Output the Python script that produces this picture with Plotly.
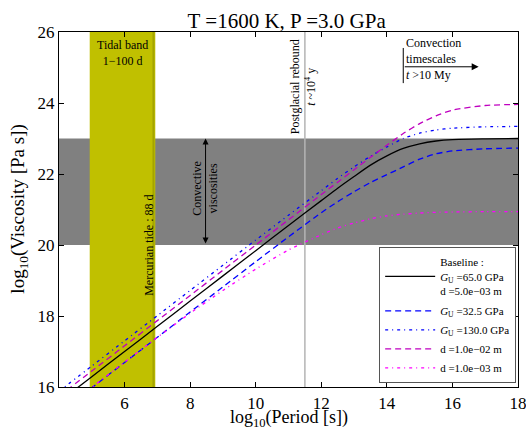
import plotly.graph_objects as go

# ---------------- data ----------------
period = [4.0, 5.0, 6.0, 7.0, 8.0, 9.0, 10.0, 11.0, 12.0, 12.5, 13.0, 13.5, 14.0, 14.5, 15.0, 15.5, 16.0, 17.0, 18.0]

visc_baseline = [15.58, 16.29, 17.00, 17.71, 18.42, 19.13, 19.84, 20.55, 21.25, 21.60, 21.93, 22.25, 22.51, 22.72, 22.85, 22.93, 22.97, 22.99, 23.00]
visc_gu_low   = [15.27, 15.98, 16.69, 17.40, 18.11, 18.82, 19.53, 20.23, 20.91, 21.22, 21.50, 21.76, 21.98, 22.20, 22.42, 22.57, 22.65, 22.71, 22.73]
visc_gu_high  = [15.88, 16.59, 17.30, 18.01, 18.72, 19.43, 20.14, 20.84, 21.53, 21.88, 22.20, 22.50, 22.76, 23.00, 23.15, 23.24, 23.29, 23.33, 23.34]
visc_d_large  = [15.74, 16.45, 17.16, 17.87, 18.58, 19.29, 20.00, 20.71, 21.42, 21.77, 22.12, 22.47, 22.81, 23.14, 23.42, 23.64, 23.80, 23.93, 23.96]
visc_d_small  = [15.28, 15.99, 16.70, 17.40, 18.08, 18.72, 19.32, 19.86, 20.29, 20.48, 20.62, 20.74, 20.82, 20.87, 20.90, 20.92, 20.93, 20.94, 20.94]

names = [
    "Baseline :<br><i>G</i><sub>U</sub> =65.0 GPa<br>d =5.0e\u221203 m",
    "<i>G</i><sub>U</sub> =32.5 GPa",
    "<i>G</i><sub>U</sub> =130.0 GPa",
    "d =1.0e\u221202 m",
    "d =1.0e\u221203 m",
]

convective_range = [20.0, 23.0]          # log10 viscosity
tidal_band = [4.937, 6.937]              # log10 period, 1-100 d
mercurian_tide = 6.881                    # 88 d
postglacial = 11.5                        # ~1e4 y
convection_start = 14.5                   # 10 My
convection_arrow_end = 16.8

x_ticks = [6, 8, 10, 12, 14, 16, 18]
y_ticks = [16, 18, 20, 22, 24, 26]

FONT = "Liberation Serif"

fig = go.Figure()

styles = [
    dict(color="black", width=1.3, dash="solid"),
    dict(color="#0000ff", width=1.3, dash="6px,4px"),
    dict(color="#0000ff", width=1.3, dash="3px,4px,1px,4px"),
    dict(color="#bf00bf", width=1.3, dash="6px,4px"),
    dict(color="#ff00ff", width=1.3, dash="3px,4px,1px,4px"),
]
series = [visc_baseline, visc_gu_low, visc_gu_high, visc_d_large, visc_d_small]
for i, (ys, nm, st) in enumerate(zip(series, names, styles)):
    fig.add_trace(go.Scatter(
        x=period, y=ys, mode="lines", name=nm,
        line=dict(shape="spline", smoothing=0.6, **st),
        legendgroup="base" if i == 0 else "other",
    ))

# bands and lines (all in data coordinates so they share one layer)
fig.add_shape(type="rect", xref="x", yref="y", x0=3.9, x1=18.1,
              y0=convective_range[0], y1=convective_range[1],
              fillcolor="#808080", line_width=0, layer="below")
fig.add_shape(type="line", xref="x", yref="y", x0=postglacial, x1=postglacial,
              y0=15.9, y1=26.1, line=dict(color="#b4b4b4", width=1.5), layer="below")
fig.add_shape(type="rect", xref="x", yref="y", x0=tidal_band[0], x1=tidal_band[1],
              y0=15.9, y1=26.1, fillcolor="#c0c000", line_width=0, layer="below")
fig.add_shape(type="line", xref="x", yref="y", x0=mercurian_tide, x1=mercurian_tide,
              y0=15.9, y1=26.1, line=dict(color="#a4a400", width=2), layer="below")
fig.add_shape(type="line", xref="x", yref="y", x0=convection_start, x1=convection_start,
              y0=24.56, y1=25.55, line=dict(color="black", width=1))

ann_font = dict(family=FONT, size=12, color="black")

# double arrow for convective viscosities
fig.add_annotation(x=8.47, y=convective_range[1], ax=8.47, ay=convective_range[0],
                   xref="x", yref="y", axref="x", ayref="y", text="",
                   showarrow=True, arrowhead=2, arrowside="end+start",
                   arrowsize=1.2, arrowwidth=1, arrowcolor="black")
fig.add_annotation(x=8.47, y=21.6, xref="x", yref="y", text="Convective<br>viscosities",
                   showarrow=False, textangle=-90, font=ann_font)

# convection arrow
fig.add_annotation(x=convection_arrow_end, y=25.02, ax=convection_start, ay=25.02,
                   xref="x", yref="y", axref="x", ayref="y", text="",
                   showarrow=True, arrowhead=2, arrowsize=1.4, arrowwidth=1,
                   arrowcolor="black")
fig.add_annotation(x=14.52, y=25.0, xref="x", yref="y", text="Convection<br>timescales",
                   showarrow=False, xanchor="left", yanchor="bottom", align="left",
                   font=ann_font)
fig.add_annotation(x=14.52, y=25.03, xref="x", yref="y", text="<i>t</i> >10 My",
                   showarrow=False, xanchor="left", yanchor="top", align="left",
                   font=ann_font)

fig.add_annotation(x=5.94, y=25.4, xref="x", yref="y", text="Tidal band<br>1\u2212100 d",
                   showarrow=False, font=ann_font)
fig.add_annotation(x=6.74, y=20.0, xref="x", yref="y", text="Mercurian tide : 88 d",
                   showarrow=False, textangle=-90, font=ann_font)
fig.add_annotation(x=11.45, y=24.45, xref="x", yref="y",
                   text="Postglacial rebound<br><i>t</i> ~10<sup>4</sup> y",
                   showarrow=False, textangle=-90, font=ann_font)

# axis titles as paper annotations (positioned like the reference)
fig.add_annotation(x=0.5, y=-0.09, xref="paper", yref="paper", yanchor="middle",
                   text="log<sub>10</sub>(Period [s])", showarrow=False,
                   font=dict(family=FONT, size=18, color="black"))
fig.add_annotation(x=-0.089, y=0.5, xref="paper", yref="paper", xanchor="center",
                   text="log<sub>10</sub>(Viscosity [Pa s])", showarrow=False,
                   textangle=-90, font=dict(family=FONT, size=19, color="black"))

axis_common = dict(showline=True, linecolor="black", linewidth=1.2, mirror="ticks",
                   ticks="inside", ticklen=5, tickcolor="black", showgrid=False,
                   zeroline=False, automargin=False, ticklabeloverflow="allow",
                   tickfont=dict(family=FONT, size=17, color="black"))

fig.update_xaxes(range=[4, 18], tickvals=x_ticks, **axis_common)
fig.update_yaxes(range=[16, 26], tickvals=y_ticks, **axis_common)

fig.update_layout(
    width=526, height=429,
    margin=dict(l=59, r=8, t=32, b=42),
    paper_bgcolor="white", plot_bgcolor="white",
    title=dict(text="T =1600 K, P =3.0 GPa", x=0.545, xanchor="center", y=0.953,
               yanchor="middle", font=dict(family=FONT, size=21, color="black")),
    font=dict(family=FONT, color="black"),
    legend=dict(x=0.996, y=0.01, xanchor="right", yanchor="bottom",
                bgcolor="white", bordercolor="#555555", borderwidth=1,
                font=dict(family=FONT, size=11, color="black"),
                traceorder="grouped", tracegroupgap=2, itemwidth=50),
    showlegend=True,
)

# remove the default page margin so the 526x429 figure fills the window exactly
fig.write_html("out.html", config={"displayModeBar": False},
               post_script="document.body.style.margin='0';document.body.style.overflow='hidden';")
